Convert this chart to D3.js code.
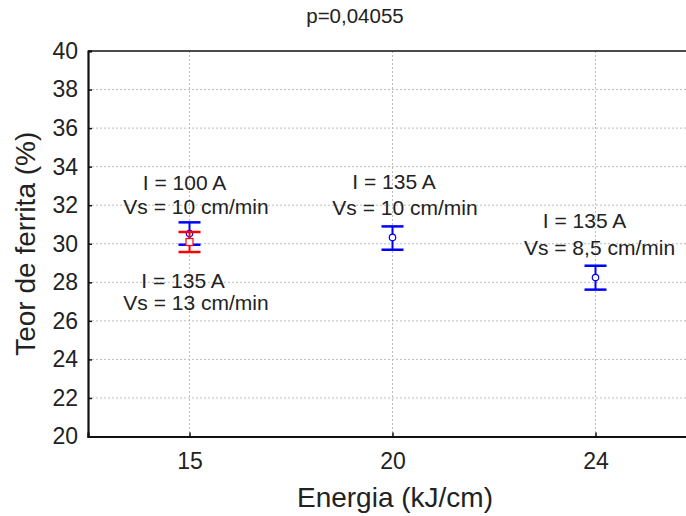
<!DOCTYPE html>
<html><head><meta charset="utf-8">
<script src="https://cdn.jsdelivr.net/npm/d3@7"></script>
<style>body{margin:0;background:#fff}svg{display:block}text{font-family:"Liberation Sans",Arial,sans-serif}</style>
</head><body>
<script>
const categories = ["15", "20", "24"];
const yTicks = [20, 22, 24, 26, 28, 30, 32, 34, 36, 38, 40];
// blue series (all three energies)
const blueMean = [30.53, 30.33, 28.25];
const blueLow = [29.95, 29.69, 27.62];
const blueHigh = [31.11, 30.90, 28.86];
// red series (only at 15)
const redCats = ["15"];
const redMean = [30.09];
const redLow = [29.57];
const redHigh = [30.61];
const titleText = "p=0,04055";
const xTitle = "Energia (kJ/cm)";
const yTitle = "Teor de ferrita (%)";
const annotCats = ["15", "15", "15", "15", "20", "20", "24", "24"];
const annotText = ["I = 100 A", "Vs = 10 cm/min", "I = 135 A", "Vs = 13 cm/min", "I = 135 A", "Vs = 10 cm/min", "I = 135 A", "Vs = 8,5 cm/min"];
const annotY = [32.81, 31.56, 27.71, 26.57, 32.86, 31.51, 30.83, 29.43];
const annotDx = [-5, 6.5, -6.5, 6.5, 1.5, 12.5, -11, 4];

const W = 686, H = 516;
const mLeft = 88, mTop = 51, mBottom = 436.5, mRight = 697;
const svg = d3.select("body").append("svg").attr("width", W).attr("height", H);

const x = d3.scalePoint().domain(categories).range([mLeft, mRight]).padding(0.5);
const y = d3.scaleLinear().domain([20, 40]).range([mBottom, mTop]);

// grid
const grid = svg.append("g").attr("stroke", "#bdbdbd").attr("stroke-width", 1).attr("stroke-dasharray", "2,2");
yTicks.filter(t => t > 20 && t < 40).forEach(t => {
  grid.append("line").attr("x1", mLeft).attr("x2", mRight).attr("y1", y(t)).attr("y2", y(t));
});
categories.forEach(c => {
  grid.append("line").attr("x1", x(c)).attr("x2", x(c)).attr("y1", mTop).attr("y2", mBottom);
});

// frame
svg.append("line").attr("x1", mLeft).attr("x2", mRight).attr("y1", mTop).attr("y2", mTop).attr("stroke", "#111").attr("stroke-width", 1.5);

// axes
const yAxis = d3.axisLeft(y).tickValues(yTicks).tickSize(-4).tickPadding(10);
const gy = svg.append("g").attr("transform", `translate(${mLeft},0)`).call(yAxis);
gy.select(".domain").attr("stroke", "#111").attr("stroke-width", 2.2);
gy.selectAll(".tick line").attr("stroke", "#111").attr("stroke-width", 1.5);
gy.selectAll(".tick text").attr("font-size", 23).attr("fill", "#222").attr("font-family", "Liberation Sans, Arial, sans-serif");

const xAxis = d3.axisBottom(x).tickSize(-4).tickPadding(16);
const gx = svg.append("g").attr("transform", `translate(0,${mBottom})`).call(xAxis);
gx.select(".domain").attr("stroke", "#111").attr("stroke-width", 2.2);
gx.selectAll(".tick line").attr("stroke", "#111").attr("stroke-width", 1.5);
gx.selectAll(".tick text").attr("font-size", 23).attr("fill", "#222").attr("font-family", "Liberation Sans, Arial, sans-serif");

// error bars
function drawSeries(cats, mean, lo, hi, color, marker) {
  const g = svg.append("g");
  cats.forEach((c, i) => {
    const cx = x(c);
    g.append("line").attr("x1", cx).attr("x2", cx).attr("y1", y(lo[i])).attr("y2", y(hi[i])).attr("stroke", color).attr("stroke-width", 2);
    [lo[i], hi[i]].forEach(v => {
      g.append("line").attr("x1", cx - 11).attr("x2", cx + 11).attr("y1", y(v)).attr("y2", y(v)).attr("stroke", color).attr("stroke-width", 2.5);
    });
    if (marker === "circle") {
      g.append("circle").attr("cx", cx).attr("cy", y(mean[i])).attr("r", 3.2).attr("fill", "#fff").attr("stroke", color).attr("stroke-width", 1.2);
    } else {
      g.append("rect").attr("x", cx - 3.5).attr("y", y(mean[i]) - 3.5).attr("width", 7).attr("height", 7).attr("fill", "#fff").attr("stroke", color).attr("stroke-width", 1.2);
    }
  });
}
drawSeries(categories, blueMean, blueLow, blueHigh, "#0000ff", "circle");
drawSeries(redCats, redMean, redLow, redHigh, "#ff0000", "square");

// annotations
annotText.forEach((t, i) => {
  svg.append("text").attr("x", x(annotCats[i]) + annotDx[i]).attr("y", y(annotY[i]))
    .attr("text-anchor", "middle").attr("font-size", 21).attr("fill", "#222").text(t);
});

// titles
svg.append("text").attr("x", 355).attr("y", 23).attr("text-anchor", "middle").attr("font-size", 20.5).attr("fill", "#222").text(titleText);
svg.append("text").attr("x", 395).attr("y", 507).attr("text-anchor", "middle").attr("font-size", 28).attr("fill", "#222").text(xTitle);
svg.append("text").attr("transform", `translate(35,${(mTop + mBottom) / 2}) rotate(-90)`).attr("text-anchor", "middle").attr("font-size", 28).attr("fill", "#222").text(yTitle);
</script>
</body></html>
